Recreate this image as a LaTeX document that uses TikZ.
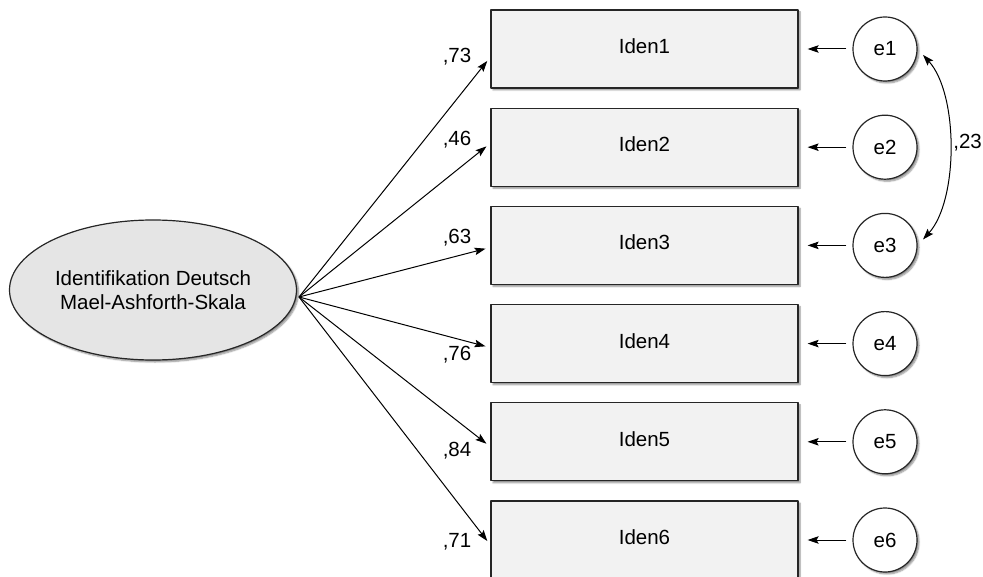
\documentclass[tikz,border=0pt]{standalone}
\usepackage{fontspec}
\setmainfont{Liberation Sans}
\usetikzlibrary{arrows.meta,shapes.geometric,shadows.blur}
\tikzset{
  shade box/.style={blur shadow={shadow xshift=2pt,shadow yshift=-2pt,shadow blur steps=6,shadow blur radius=1.5pt,shadow opacity=45}},
  latent/.style={ellipse,draw=black!85,line width=1.2pt,fill=black!10,minimum width=287pt,minimum height=140pt,align=center,shade box},
  indic/.style={rectangle,draw=black!85,line width=1.2pt,fill=black!5,minimum width=307pt,minimum height=78pt,text depth=6pt,shade box},
  err/.style={circle,draw=black!85,line width=1.2pt,fill=white,minimum size=64pt,inner sep=0pt,shade box},
  tip/.tip={Stealth[length=11pt,width=7.5pt,inset=2pt]},
  load/.style={line width=1pt,-tip}
}
\begin{document}
\begin{tikzpicture}[x=1pt,y=-1pt,line join=round,font=\fontsize{20.5}{24}\selectfont]
\useasboundingbox (0,0) rectangle (983,577);
\clip (0,0) rectangle (983,577);
% latent factor
\node[latent] (F) at (153,290) {Identifikation Deutsch\\Mael-Ashforth-Skala};
\coordinate (src) at (299,297);
% indicators, errors, loadings
\foreach \i/\d/\w/\v in {1/-8/57/73,2/4/140/46,3/-2/238/63,4/-4/355/76,5/-5/451/84,6/-5/542/71}{
  \node[indic] (Iden\i) at (644.5,{49+98.2*(\i-1)}) {Iden\i};
  \node[err] (e\i) at (885,{49+98.2*(\i-1)}) {e\i};
  \draw[load,shorten >=5pt] (src) -- ([yshift=\d pt]Iden\i.west);
  \draw[load,shorten <=6pt,shorten >=9pt] (e\i) -- (Iden\i);
  \node (w\i) at (457,\w) {,\v};
}
% error covariance
\draw[line width=1pt,tip-tip,shorten <=8pt,shorten >=8pt]
  (e1.east) .. controls ([xshift=41pt,yshift=-45pt]e1.east) and ([xshift=41pt,yshift=45pt]e3.east) .. (e3.east);
\node[anchor=east,inner sep=0pt] (r13) at (982,143) {,23};
\end{tikzpicture}
\end{document}
